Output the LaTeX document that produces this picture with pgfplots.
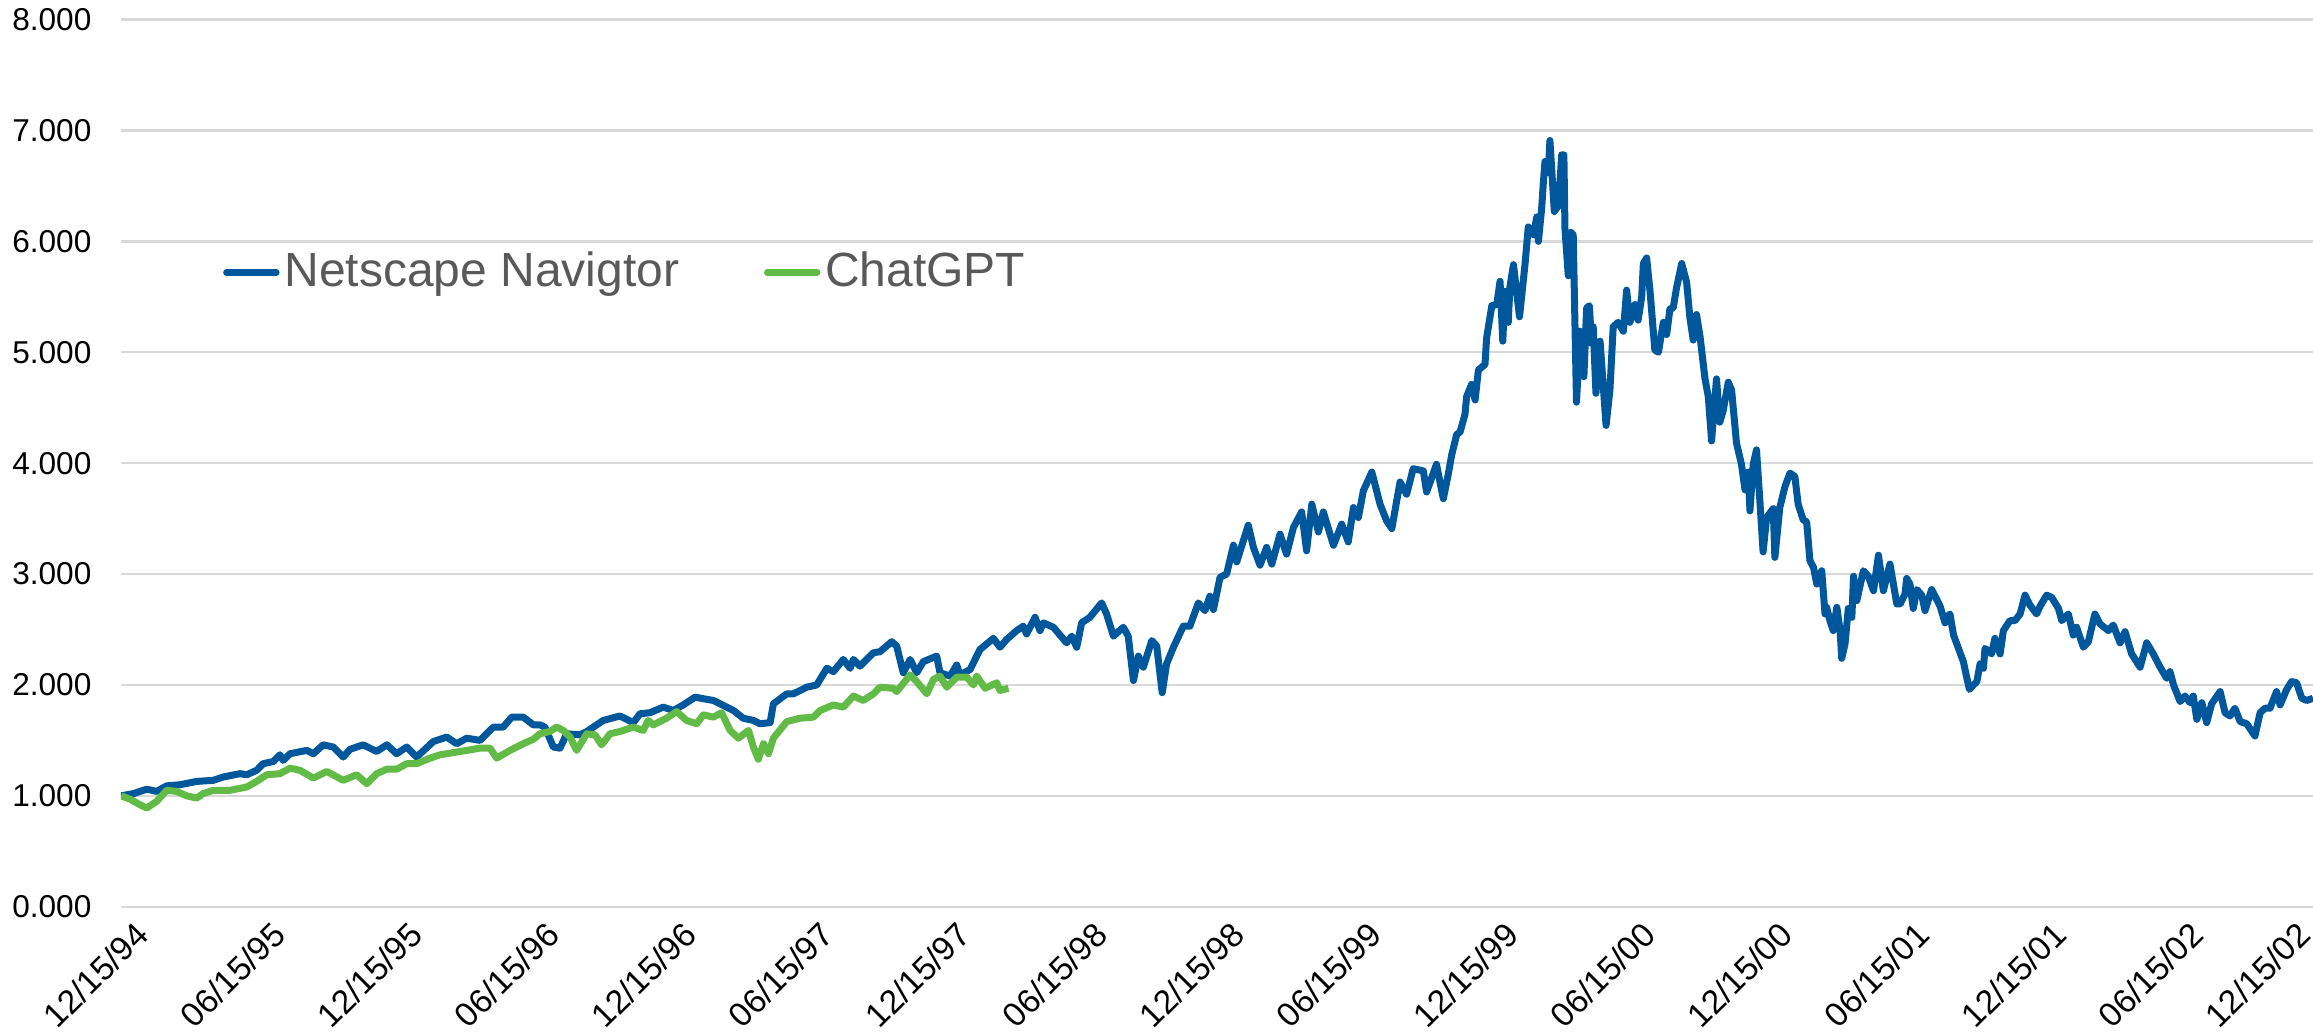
\documentclass[border=0pt]{standalone}
\usepackage{pgfplots}
\pgfplotsset{compat=1.18}
\usepackage{fontspec}
\setmainfont{Liberation Sans}
\definecolor{navblue}{HTML}{01579B}
\definecolor{gptgreen}{HTML}{63BB47}
\definecolor{gridgray}{HTML}{D9D9D9}
\definecolor{legtext}{HTML}{595959}
\begin{document}
\begin{tikzpicture}
\begin{axis}[
  scale only axis,
  width=548pt, height=221.8pt,
  xmin=0, xmax=8, ymin=0, ymax=8,
  axis line style={draw=none},
  major tick style={draw=none},
  ymajorgrids,
  major grid style={gridgray, line width=0.6pt},
  ytick={0,1,2,3,4,5,6,7,8},
  yticklabels={0.000,1.000,2.000,3.000,4.000,5.000,6.000,7.000,8.000},
  xtick={0,0.5,1,1.5,2,2.5,3,3.5,4,4.5,5,5.5,6,6.5,7,7.5,7.89},
  xticklabels={12/15/94,06/15/95,12/15/95,06/15/96,12/15/96,06/15/97,12/15/97,06/15/98,12/15/98,06/15/99,12/15/99,06/15/00,12/15/00,06/15/01,12/15/01,06/15/02,12/15/02},
  yticklabel style={font=\fontsize{7.9}{9}\selectfont, anchor=east, inner sep=0pt, xshift=-7.2pt},
  xticklabel style={font=\fontsize{8.4}{10}\selectfont, rotate=45, anchor=north east, inner sep=0pt, xshift=0pt, yshift=-4.3pt},
  legend style={at={(axis cs:0.37,5.72)}, anchor=west, draw=none, fill=none,
    font=\fontsize{12}{14}\selectfont, text=legtext, inner sep=0pt,
    nodes={inner xsep=1.2pt, inner ysep=0pt},
    /tikz/every even column/.append style={column sep=20pt}},
  legend columns=2,
  legend cell align=left,
  legend image code/.code={\draw[#1, line width=1.6pt, line cap=round] (0pt,0pt) -- (12.5pt,0pt);},
  every axis plot/.append style={line width=1.75pt, line join=round},
]
\addplot[navblue] coordinates {
(0,1.00)(0.045,1.02)(0.094,1.06)(0.130,1.04)(0.167,1.09)(0.215,1.10)(0.276,1.13)(0.337,1.14)(0.373,1.17)(0.434,1.20)(0.459,1.19)(0.495,1.23)(0.519,1.29)(0.556,1.31)(0.580,1.37)(0.592,1.32)(0.617,1.38)(0.678,1.41)(0.702,1.38)(0.738,1.46)(0.775,1.44)(0.811,1.35)(0.836,1.42)(0.884,1.46)(0.933,1.40)(0.970,1.46)(1.006,1.38)(1.043,1.44)(1.079,1.35)(1.140,1.49)(1.189,1.53)(1.225,1.47)(1.262,1.52)(1.310,1.50)(1.359,1.62)(1.395,1.62)(1.426,1.71)(1.468,1.71)(1.505,1.64)
(1.529,1.64)(1.547,1.62)(1.578,1.44)(1.602,1.43)(1.627,1.56)(1.675,1.55)(1.700,1.58)(1.736,1.64)(1.760,1.68)(1.821,1.72)(1.870,1.66)(1.894,1.74)(1.931,1.75)(1.979,1.80)(2.016,1.77)(2.052,1.82)(2.095,1.89)(2.138,1.87)(2.162,1.86)(2.211,1.80)(2.235,1.77)(2.271,1.70)(2.308,1.68)(2.332,1.65)(2.369,1.66)(2.381,1.83)(2.430,1.92)(2.454,1.92)(2.503,1.98)(2.539,2.00)(2.576,2.15)(2.600,2.12)(2.636,2.23)(2.661,2.15)(2.673,2.23)(2.697,2.17)(2.746,2.29)(2.770,2.30)(2.813,2.39)(2.831,2.35)(2.855,2.11)(2.880,2.23)(2.904,2.11)(2.928,2.21)(2.977,2.26)(2.989,2.11)(3.026,2.08)(3.050,2.18)(3.062,2.09)(3.099,2.14)(3.135,2.32)(3.184,2.42)
(3.208,2.34)(3.232,2.41)(3.269,2.49)(3.293,2.53)(3.305,2.46)(3.336,2.61)(3.354,2.49)(3.366,2.56)(3.403,2.52)(3.451,2.38)(3.470,2.44)(3.488,2.34)(3.506,2.56)(3.536,2.61)(3.579,2.74)(3.597,2.64)(3.622,2.44)(3.658,2.52)(3.676,2.44)(3.695,2.04)(3.713,2.26)(3.731,2.16)(3.762,2.40)(3.780,2.35)(3.800,1.93)(3.816,2.19)(3.841,2.34)(3.877,2.53)(3.901,2.53)(3.932,2.74)(3.956,2.67)(3.974,2.80)(3.987,2.68)(4.011,2.97)(4.035,3.00)(4.060,3.26)(4.072,3.11)(4.096,3.30)(4.114,3.44)(4.133,3.24)(4.157,3.08)(4.181,3.24)(4.200,3.09)(4.230,3.36)(4.254,3.18)(4.279,3.42)(4.309,3.56)(4.327,3.21)(4.346,3.63)(4.370,3.38)(4.388,3.56)(4.425,3.26)(4.455,3.45)(4.479,3.29)(4.498,3.60)(4.516,3.51)(4.534,3.75)(4.565,3.92)(4.595,3.63)(4.619,3.48)(4.638,3.41)(4.668,3.83)(4.692,3.72)(4.716,3.95)(4.753,3.93)(4.765,3.74)(4.801,3.99)(4.826,3.68)(4.844,3.90)(4.857,4.08)(4.875,4.26)
(4.887,4.28)(4.905,4.44)(4.911,4.60)(4.929,4.71)(4.942,4.57)(4.954,4.84)(4.978,4.89)(4.984,5.13)(5.003,5.42)(5.021,5.43)(5.033,5.64)(5.043,5.10)(5.051,5.55)(5.063,5.27)(5.069,5.59)(5.082,5.79)(5.104,5.32)(5.124,5.79)(5.136,6.13)(5.155,6.06)(5.167,6.22)(5.173,6.00)(5.185,6.30)(5.191,6.53)(5.197,6.72)(5.209,6.62)(5.215,6.91)(5.231,6.27)(5.246,6.32)(5.258,6.78)(5.266,6.78)(5.270,6.11)(5.282,5.69)(5.292,6.08)(5.300,6.06)(5.312,4.55)(5.325,5.19)(5.339,4.78)(5.349,5.40)(5.359,5.42)(5.367,5.08)(5.373,5.23)(5.383,4.63)(5.398,5.10)(5.420,4.34)(5.434,4.66)(5.446,5.23)(5.464,5.27)(5.483,5.19)(5.495,5.56)(5.507,5.27)(5.525,5.43)(5.537,5.29)(5.550,5.50)(5.556,5.80)(5.568,5.85)(5.580,5.56)(5.598,5.02)(5.611,5.00)(5.629,5.27)(5.641,5.16)(5.653,5.39)(5.665,5.40)(5.677,5.58)(5.696,5.80)(5.714,5.63)(5.726,5.31)(5.738,5.11)(5.750,5.34)(5.763,5.14)(5.781,4.76)(5.793,4.60)(5.805,4.20)(5.823,4.76)(5.835,4.37)(5.847,4.47)(5.866,4.73)(5.878,4.66)(5.896,4.18)(5.914,3.99)(5.927,3.76)(5.939,3.92)(5.945,3.57)(5.957,3.99)(5.969,4.12)(5.981,3.67)(5.993,3.20)(6.006,3.51)(6.030,3.59)(6.036,3.15)(6.054,3.60)(6.073,3.79)(6.091,3.91)(6.109,3.88)(6.121,3.63)(6.139,3.49)(6.152,3.47)
(6.164,3.12)(6.177,3.06)(6.189,2.91)(6.207,3.03)(6.219,2.64)(6.225,2.70)(6.237,2.58)(6.249,2.49)(6.262,2.70)(6.274,2.49)(6.280,2.24)(6.292,2.37)(6.304,2.69)(6.317,2.61)(6.323,2.98)(6.335,2.76)(6.359,3.03)(6.377,2.98)(6.396,2.85)(6.414,3.17)(6.432,2.85)(6.456,3.09)(6.481,2.73)
(6.493,2.73)(6.511,2.82)(6.517,2.96)(6.529,2.91)(6.541,2.69)(6.554,2.86)(6.572,2.81)(6.584,2.67)(6.608,2.86)(6.627,2.77)(6.639,2.71)(6.657,2.56)(6.663,2.61)(6.675,2.64)(6.688,2.45)(6.706,2.33)(6.724,2.21)(6.736,2.07)(6.746,1.96)(6.761,2.00)(6.773,2.03)(6.785,2.19)(6.797,2.15)(6.803,2.33)(6.827,2.28)(6.839,2.42)(6.858,2.28)(6.870,2.49)(6.894,2.58)(6.912,2.58)(6.931,2.64)(6.949,2.81)(6.967,2.72)(6.991,2.64)(7.004,2.71)(7.028,2.81)(7.046,2.79)(7.071,2.69)(7.083,2.58)(7.107,2.64)(7.125,2.45)(7.137,2.52)(7.162,2.34)(7.180,2.39)(7.204,2.64)(7.223,2.55)(7.253,2.49)(7.271,2.54)(7.296,2.38)(7.314,2.48)(7.338,2.28)(7.369,2.16)(7.393,2.38)(7.417,2.28)(7.442,2.16)(7.466,2.06)(7.478,2.12)(7.491,2.00)(7.515,1.85)(7.533,1.90)(7.551,1.84)(7.563,1.90)(7.576,1.69)(7.594,1.84)(7.612,1.66)(7.630,1.83)(7.661,1.94)(7.679,1.75)(7.697,1.72)(7.715,1.79)(7.734,1.67)(7.758,1.65)(7.788,1.54)(7.807,1.75)(7.825,1.79)(7.843,1.79)(7.867,1.94)(7.880,1.82)(7.904,1.96)(7.922,2.03)(7.940,2.02)(7.959,1.88)(7.977,1.86)(8.000,1.88)
};
\addlegendentry{Netscape Navigtor}
\addplot[gptgreen] coordinates {
(0,1.00)(0.033,0.97)(0.069,0.92)(0.094,0.89)(0.130,0.95)(0.167,1.05)(0.203,1.04)(0.240,1.00)(0.276,0.98)(0.300,1.02)(0.337,1.05)(0.398,1.05)(0.459,1.08)(0.495,1.13)(0.532,1.19)(0.580,1.20)(0.617,1.25)(0.653,1.23)(0.702,1.16)(0.751,1.22)(0.811,1.14)(0.860,1.19)(0.897,1.11)(0.933,1.20)(0.970,1.24)(1.006,1.24)(1.043,1.29)(1.079,1.29)(1.128,1.34)(1.164,1.37)(1.213,1.39)(1.262,1.41)(1.310,1.43)(1.347,1.43)(1.371,1.34)(1.420,1.41)(1.468,1.47)(1.505,1.51)
(1.529,1.56)(1.565,1.58)(1.590,1.62)(1.614,1.59)(1.639,1.53)(1.663,1.41)(1.700,1.56)(1.730,1.55)(1.754,1.46)(1.785,1.56)(1.821,1.58)(1.870,1.62)(1.906,1.59)(1.924,1.68)(1.943,1.64)(1.991,1.70)(2.028,1.76)(2.064,1.68)(2.101,1.65)(2.125,1.73)(2.162,1.71)(2.192,1.75)(2.223,1.59)(2.253,1.52)(2.290,1.59)(2.308,1.44)(2.326,1.33)(2.345,1.47)(2.363,1.38)(2.381,1.52)(2.430,1.67)(2.478,1.70)(2.527,1.71)(2.552,1.77)(2.600,1.82)(2.636,1.80)(2.673,1.90)(2.709,1.86)(2.746,1.92)(2.770,1.98)(2.819,1.97)(2.831,1.94)(2.880,2.09)(2.904,2.03)(2.941,1.92)(2.965,2.05)(2.989,2.08)(3.014,1.98)(3.050,2.07)(3.087,2.07)(3.111,2.00)(3.123,2.08)(3.154,1.97)(3.196,2.02)(3.208,1.95)(3.239,1.97)
};
\addlegendentry{ChatGPT}
\end{axis}
\pgfresetboundingbox
\path[use as bounding box] ([xshift=-30.25pt,yshift=-31.8pt]current axis.south west) rectangle ([yshift=4.9pt]current axis.north east);
\end{tikzpicture}
\end{document}
